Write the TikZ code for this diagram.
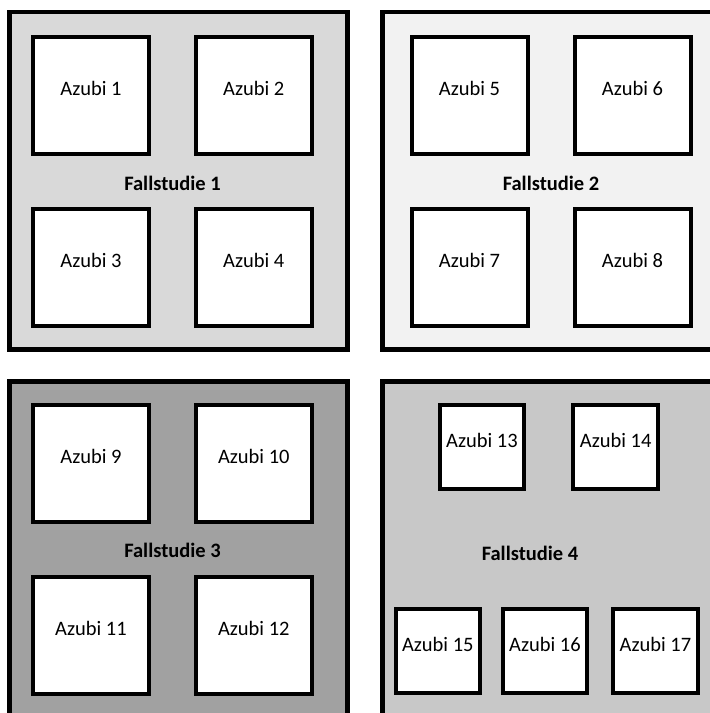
\documentclass[tikz,border=0pt]{standalone}
\usepackage{fontspec}
\setmainfont{Carlito}
\usepackage{xcolor}
\usepackage{tikz}

\begin{document}
\begin{tikzpicture}[x=1pt, y=-1pt,
    azubi/.style={draw, line width=4pt, fill=white, inner sep=0pt,
        minimum width=116pt, minimum height=117pt,
        text height=8pt, text depth=8pt, font=\fontsize{20.5}{24}\selectfont},
    piccolo/.style={azubi, minimum width=84.5pt, minimum height=83.5pt},
    titolo/.style={inner sep=0pt, font=\fontsize{20.5}{24}\selectfont\bfseries},
    cornice/.style={draw=black, line width=4.5pt}]

    % Area visibile
    \clip (0,0) rectangle (710,713);

    % Riquadri esterni (le quattro Fallstudien)
    \filldraw[cornice, fill=black!15]   (9.5,12)    rectangle (347.5,349.5);
    \filldraw[cornice, fill=black!5]    (382.5,12)  rectangle (730,349.5);
    \filldraw[cornice, fill=black!37]   (9.5,381.5) rectangle (347.5,730);
    \filldraw[cornice, fill=black!21.5] (382.5,381.5) rectangle (730,730);

    % Azubi nei primi tre riquadri (griglia 2x2)
    \foreach \n/\x/\y in {1/91/95.3, 2/253.8/95.3, 3/91/267.5, 4/253.8/267.5,
                          5/469.5/95.3, 6/632.5/95.3, 7/469.5/267.5, 8/632.5/267.5,
                          9/91/463, 10/253.8/463, 11/91/635, 12/253.8/635} {
        \node[azubi] (az\n) at (\x,\y) {Azubi \n};
    }

    % Azubi nel quarto riquadro (quadrati piu piccoli)
    \foreach \n/\x/\y in {13/482/447, 14/615.7/447,
                          15/437.8/651.2, 16/545/651.2, 17/655.5/651.2} {
        \node[piccolo] (az\n) at (\x,\y) {Azubi \n};
    }

    % Titoli
    \node[titolo] (fs1) at (172.5,183) {Fallstudie 1};
    \node[titolo] (fs2) at (551,183) {Fallstudie 2};
    \node[titolo] (fs3) at (172.5,550.5) {Fallstudie 3};
    \node[titolo] (fs4) at (530,553) {Fallstudie 4};

\end{tikzpicture}
\end{document}
